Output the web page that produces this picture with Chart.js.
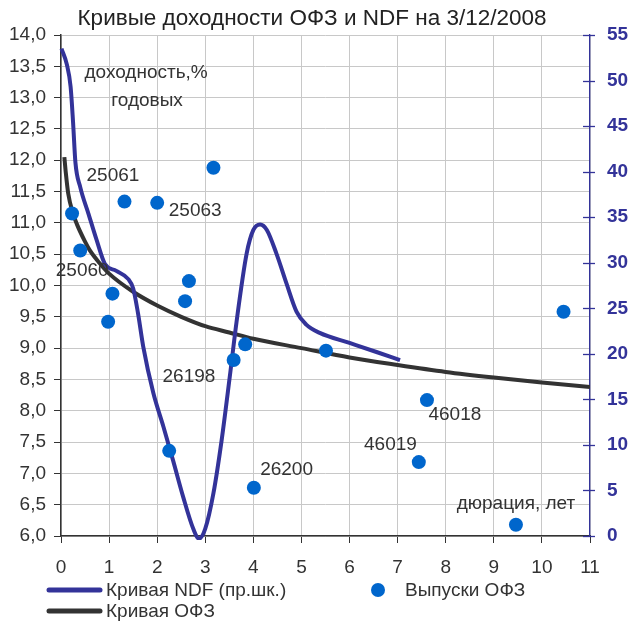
<!DOCTYPE html>
<html><head><meta charset="utf-8">
<script src="https://cdn.jsdelivr.net/npm/chart.js@4.4.0/dist/chart.umd.min.js"></script>
<style>html,body{margin:0;padding:0;background:#fff}#wrap{width:632px;height:622px}</style>
</head><body><div id="wrap"><canvas id="c" width="632" height="622"></canvas></div>
<script>
// ---- data ----
const titleText = 'Кривые доходности ОФЗ и NDF на 3/12/2008';
// OFZ curve (left axis, %)
const ofzX = [0.07,0.1,0.15,0.25,0.33,0.5,0.6,0.8,1.0,1.5,2,2.5,3,3.5,4,5,6,7,8,9,10,11];
const ofzY = [12.05,11.8,11.47,11.15,10.98,10.7,10.56,10.36,10.19,9.90,9.68,9.50,9.35,9.25,9.15,9.0,8.85,8.73,8.62,8.53,8.45,8.38];
// NDF curve (right axis)
const ndfX = [0.01,0.12,0.2,0.25,0.3,0.4,0.57,0.74,0.91,1.15,1.4,1.5,1.6,1.71,1.92,2.13,2.33,2.54,2.75,2.87,3.0,3.17,3.34,3.51,3.65,3.86,4.0,4.14,4.28,4.48,4.69,4.9,5.1,5.38,6.0,6.56,7.05];
const ndfY = [53.5,51.8,49.3,45.5,41.0,38.3,35.4,32.5,29.9,29.1,28.2,27.2,24.5,20.8,15.7,12.0,8.3,4.3,0.8,-0.3,0.8,4.7,10.5,17.5,23.5,31.0,33.6,34.2,33.6,31.0,27.7,24.6,23.2,22.3,21.2,20.2,19.3];
// OFZ issues (duration, yield)
const bondX = [0.23,0.40,1.32,2.0,3.17,2.66,2.58,1.07,0.98,2.25,3.59,3.83,4.01,5.51,10.45,7.61,7.44,9.46];
const bondY = [11.15,10.56,11.34,11.32,11.88,10.07,9.75,9.87,9.42,7.36,8.81,9.06,6.77,8.96,9.58,8.17,7.18,6.18];
// annotation labels (data units, left axis)
const labelText = ['25061','25063','25060','26198','26200','46018','46019','доходность,%','годовых','дюрация, лет'];
const labelX = [1.08,2.79,0.44,2.66,4.69,8.19,6.85,1.77,1.79,9.46];
const labelY = [11.75,11.2,10.24,8.55,7.05,7.93,7.46,13.39,12.95,6.51];
// ticks
const xTicks = [0,1,2,3,4,5,6,7,8,9,10,11];
const legendLabels = ['Кривая NDF (пр.шк.)','Выпуски ОФЗ','Кривая ОФЗ'];

const FONT = "'Liberation Sans', Arial, sans-serif";
const C_NDF = '#333399', C_OFZ = '#333333', C_PT = '#0066cc', C_TXT = '#333333';

const extras = {
  id: 'extras',
  afterDraw(chart) {
    const ctx = chart.ctx, xs = chart.scales.x, ys = chart.scales.y, y1 = chart.scales.y1;
    ctx.save();
    // right axis crossing ticks
    ctx.strokeStyle = C_NDF; ctx.lineWidth = 1.3;
    y1.ticks.forEach(t => {
      const py = Math.round(y1.getPixelForValue(t.value)) + 0.5;
      ctx.beginPath(); ctx.moveTo(y1.left - 7, py); ctx.lineTo(y1.left + 5, py); ctx.stroke();
    });
    // title
    ctx.fillStyle = '#222'; ctx.font = '22.5px ' + FONT; ctx.textAlign = 'center'; ctx.textBaseline = 'middle';
    ctx.fillText(titleText, 312, 19);
    // annotations
    ctx.fillStyle = C_TXT; ctx.font = '19px ' + FONT;
    labelText.forEach((s, i) => ctx.fillText(s, xs.getPixelForValue(labelX[i]), ys.getPixelForValue(labelY[i])));
    // legend
    ctx.textAlign = 'left'; ctx.lineCap = 'round';
    ctx.lineWidth = 5; ctx.strokeStyle = C_NDF;
    ctx.beginPath(); ctx.moveTo(49, 590); ctx.lineTo(100, 590); ctx.stroke();
    ctx.fillStyle = C_TXT; ctx.fillText(legendLabels[0], 106, 591);
    ctx.fillStyle = C_PT; ctx.beginPath(); ctx.arc(378, 590, 7, 0, Math.PI * 2); ctx.fill();
    ctx.fillStyle = C_TXT; ctx.fillText(legendLabels[1], 405, 591);
    ctx.strokeStyle = C_OFZ;
    ctx.beginPath(); ctx.moveTo(49, 611); ctx.lineTo(100, 611); ctx.stroke();
    ctx.fillStyle = C_TXT; ctx.fillText(legendLabels[2], 106, 612);
    ctx.restore();
  }
};

new Chart(document.getElementById('c'), {
  type: 'scatter',
  data: {
    datasets: [
      { label: legendLabels[1], data: bondX.map((x, i) => ({x, y: bondY[i]})), yAxisID: 'y',
        backgroundColor: C_PT, borderColor: C_PT, pointRadius: 7, pointHoverRadius: 7, borderWidth: 0 },
      { label: legendLabels[0], data: ndfX.map((x, i) => ({x, y: ndfY[i]})), yAxisID: 'y1', showLine: true,
        borderColor: C_NDF, borderWidth: 4, pointRadius: 0, cubicInterpolationMode: 'monotone', clip: 4 },
      { label: legendLabels[2], data: ofzX.map((x, i) => ({x, y: ofzY[i]})), yAxisID: 'y', showLine: true,
        borderColor: C_OFZ, borderWidth: 4, pointRadius: 0, cubicInterpolationMode: 'monotone' }
    ]
  },
  options: {
    responsive: false, animation: false, devicePixelRatio: 1,
    layout: { padding: { top: 35, left: 0, right: 0, bottom: 0 } },
    plugins: { legend: { display: false }, title: { display: false }, tooltip: { enabled: false } },
    scales: {
      x: {
        type: 'linear', min: 0, max: 11,
        afterBuildTicks: s => { s.ticks = xTicks.map(v => ({value: v})); },
        afterFit: s => { s.height = 86; },
        grid: { color: '#c8c8c8', tickColor: '#333', tickLength: 7, lineWidth: 1 },
        border: { color: '#333', width: 1.5 },
        ticks: { color: C_TXT, font: { family: FONT, size: 19 }, padding: 13, maxRotation: 0 }
      },
      y: {
        position: 'left', min: 6, max: 14,
        ticks: { stepSize: 0.5, color: C_TXT, font: { family: FONT, size: 19 }, padding: 8,
          callback: v => v.toFixed(1).replace('.', ',') },
        afterFit: s => { s.width = 61; },
        grid: { color: '#c8c8c8', tickColor: '#333', tickLength: 7 },
        border: { color: '#333', width: 1.5 }
      },
      y1: {
        position: 'right', min: 0, max: 55,
        ticks: { stepSize: 5, color: C_NDF, font: { family: FONT, size: 19, weight: 'bold' }, padding: 17 },
        afterFit: s => { s.width = 42; },
        grid: { drawOnChartArea: false, drawTicks: false },
        border: { color: C_NDF, width: 1.3 }
      }
    }
  },
  plugins: [extras]
});
</script>
</body></html>
